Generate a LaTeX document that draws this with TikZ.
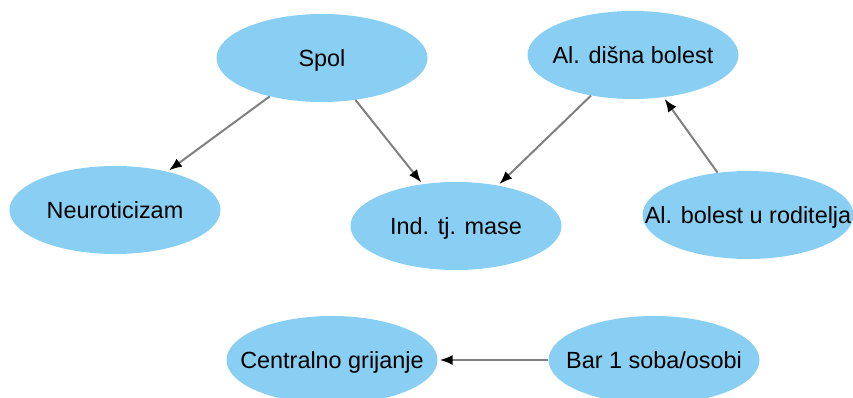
\documentclass[tikz,border=0pt]{standalone}
\usepackage{fontspec}
\setmainfont{Liberation Sans}
\usetikzlibrary{arrows.meta,shapes.geometric}
\definecolor{nodeblue}{RGB}{137,207,243}
\definecolor{edgegray}{RGB}{128,128,128}
\newcommand{\lbl}[1]{\makebox[0pt]{\smash{\raisebox{-8.4pt}{#1}}}}
\begin{document}
\begin{tikzpicture}[x=1pt,y=-1pt,
  ell/.style={ellipse, fill=nodeblue, draw=none, inner sep=0pt,
    minimum width=211pt, minimum height=88pt,
    font=\fontsize{23.4}{28}\selectfont},
  edge/.style={draw=edgegray, line width=2pt,
    -{Latex[length=13pt,width=10pt,black]}, shorten >=2pt}]
\useasboundingbox (0,0) rectangle (853,398);
\node[ell] (spol) at (322,58) {\lbl{Spol}};
\node[ell] (neuro) at (115,210) {\lbl{Neuroticizam}};
\node[ell] (ind) at (456,226) {\lbl{Ind. tj. mase}};
\node[ell] (alds) at (633,55) {\lbl{Al. dišna bolest}};
\node[ell] (albr) at (748,215) {\lbl{Al. bolest u roditelja}};
\node[ell] (cent) at (332,360) {\lbl{Centralno grijanje}};
\node[ell] (bar) at (654,360) {\lbl{Bar 1 soba/osobi}};
\draw[edge] (spol) -- (neuro);
\draw[edge] (spol) -- (ind);
\draw[edge] (alds) -- (ind);
\draw[edge] (albr) -- (alds);
\draw[edge] (bar) -- (cent);
\end{tikzpicture}
\end{document}
